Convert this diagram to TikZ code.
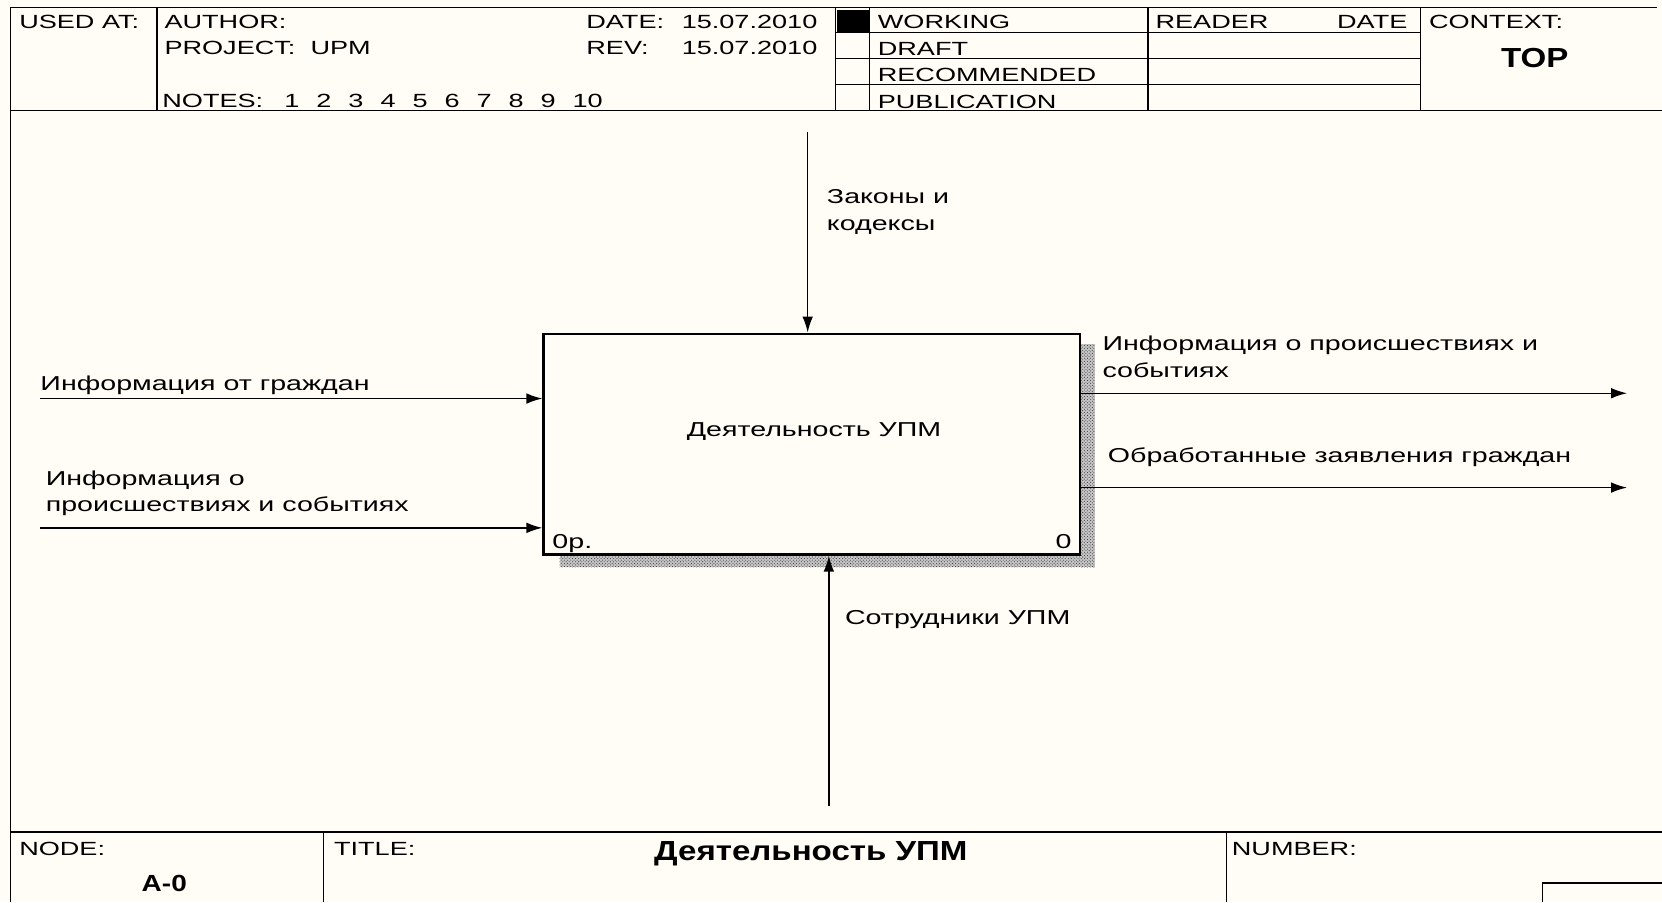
\documentclass[tikz,border=0pt]{standalone}
\usepackage{fontspec}
\setmainfont[FakeStretch=1.42]{Liberation Sans}
\newfontfamily\titlefont[FakeStretch=1.2]{Liberation Sans}
\usetikzlibrary{arrows.meta,patterns}
\definecolor{cream}{RGB}{255,253,245}
\newcommand{\gap}{\hspace{16pt}}

\begin{document}
\begin{tikzpicture}[x=1pt,y=-1pt,>={Latex[length=15pt,width=10pt]},
    frame/.style={line width=1.2pt},
    hdr/.style={font=\fontsize{18}{20}\selectfont, inner sep=0pt, anchor=base west},
    lbl/.style={font=\fontsize{19}{25}\selectfont, inner sep=0pt, align=left, anchor=north west},
    flow/.style={->, line width=1.4pt},
    shade/.style={fill=gray!45, postaction={pattern=crosshatch dots, pattern color=black!80}},
    bigtxt/.style={font=\titlefont\bfseries\fontsize{26}{28}\selectfont, inner sep=0pt, anchor=base}]
    % фон
    \fill[cream] (0,0) rectangle (1568,851);
    \useasboundingbox (0,0) rectangle (1568,851);

    % рамка и шапка
    \draw[frame] (10,851) -- (10,7) -- (1563,7);
    \draw[frame] (10,104) -- (1568,104);
    \foreach \x in {148,788,820,1083,1340}
        \draw[frame] (\x,7) -- (\x,104);
    \foreach \y in {31,55,80}
        \draw[frame] (788,\y) -- (1340,\y);
    \fill[black] (790,9) rectangle (820,30);

    \node[hdr] (usedat) at (18,27) {USED AT:};
    \node[hdr] (author) at (155,27) {AUTHOR:};
    \node[hdr] (project) at (155,51) {PROJECT:\ \ UPM};
    \node[hdr] (notes) at (153,101) {NOTES:\hspace{20pt}1\gap 2\gap 3\gap 4\gap 5\gap 6\gap 7\gap 8\gap 9\gap 10};
    \node[hdr] (date) at (553,27) {DATE:};
    \node[hdr] (rev) at (553,51) {REV:};
    \node[hdr] (dateval) at (643,27) {15.07.2010};
    \node[hdr] (revval) at (643,51) {15.07.2010};
    \node[hdr] (working) at (828,27) {WORKING};
    \node[hdr] (draft) at (828,52) {DRAFT};
    \node[hdr] (recom) at (828,77) {RECOMMENDED};
    \node[hdr] (publ) at (828,102) {PUBLICATION};
    \node[hdr] (reader) at (1090,27) {READER};
    \node[hdr, anchor=base east] (rdate) at (1328,27) {DATE};
    \node[hdr] (context) at (1348,27) {CONTEXT:};
    \node[bigtxt] (top) at (1448,64) {TOP};

    % тень блока
    \fill[shade] (1019,325) rectangle (1033,535);
    \fill[shade] (528,523) rectangle (1033,535);

    % блок
    \node[draw, fill=cream, line width=2.6pt, minimum width=506pt, minimum height=208pt] (act) at (766,419) {};
    \node[lbl, anchor=base] (acttxt) at (768,412) {Деятельность УПМ};
    \node[lbl, anchor=base west] (opr) at (521,517) {0р.};
    \node[lbl, anchor=base east] (num) at (1011,517) {0};

    % стрелки
    \coordinate (ctrl) at (762,125);
    \coordinate (in1) at (38,376);
    \coordinate (in2) at (38,498);
    \coordinate (out1) at (1535,371);
    \coordinate (out2) at (1535,460);
    \coordinate (mech) at (782,760);

    \draw[flow] (ctrl) -- (ctrl |- act.north);
    \draw[flow] (in1) -- (in1 -| act.west);
    \draw[flow] (in2) -- (in2 -| act.west);
    \draw[flow] (out1 -| act.east) -- (out1);
    \draw[flow] (out2 -| act.east) -- (out2);
    \draw[flow] (mech) -- (mech |- act.south);

    \node[lbl] (ctrltxt) at (780,179) {Законы и\\кодексы};
    \node[lbl] (in1txt) at (38,354) {Информация от граждан};
    \node[lbl] (in2txt) at (43,444) {Информация о\\происшествиях и событиях};
    \node[lbl] (out1txt) at (1040,317) {Информация о происшествиях и\\событиях};
    \node[lbl] (out2txt) at (1045,422) {Обработанные заявления граждан};
    \node[lbl] (mechtxt) at (797,576) {Сотрудники УПМ};

    % подвал
    \draw[frame] (10,785) -- (1568,785);
    \draw[frame] (305,785) -- (305,851);
    \draw[frame] (1157,785) -- (1157,851);
    \draw[frame] (1455,851) -- (1455,833) -- (1568,833);
    \node[hdr] (nodelbl) at (18,807) {NODE:};
    \node[bigtxt, font=\titlefont\bfseries\fontsize{22}{24}\selectfont] (nodeval) at (155,841) {A-0};
    \node[hdr] (titlelbl) at (315,807) {TITLE:};
    \node[bigtxt] (titleval) at (765,812) {Деятельность УПМ};
    \node[hdr] (numlbl) at (1162,807) {NUMBER:};

\end{tikzpicture}
\end{document}
